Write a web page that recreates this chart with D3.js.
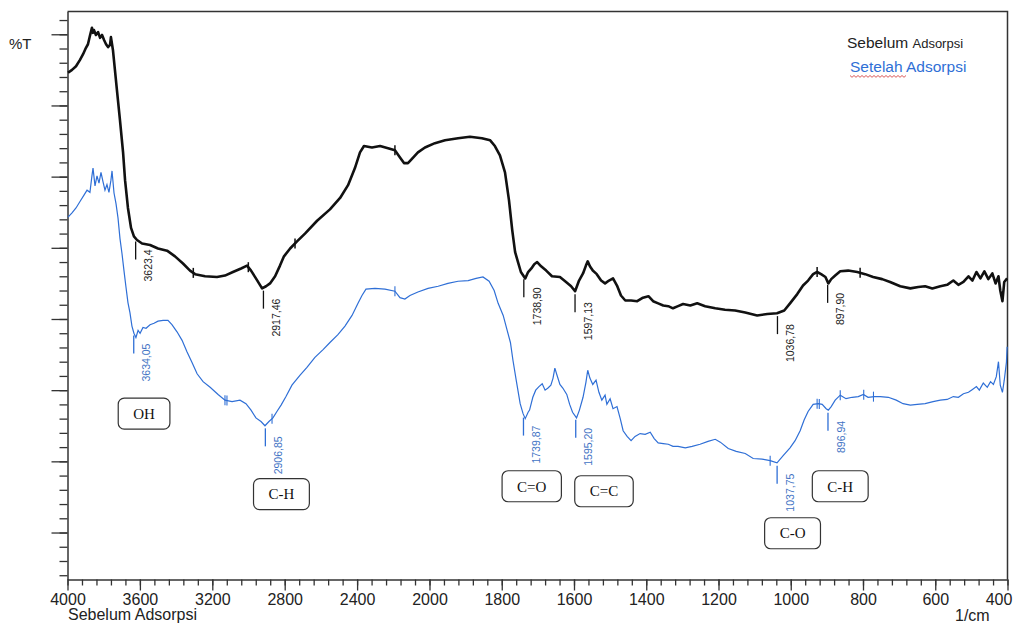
<!DOCTYPE html>
<html>
<head>
<meta charset="utf-8">
<script src="https://cdn.jsdelivr.net/npm/d3@7"></script>
<style>
  body { margin: 0; background: #fff; }
  svg { display: block; font-family: "Liberation Sans", Arial, sans-serif; }
</style>
</head>
<body>
<svg width="1015" height="623"></svg>
<script>
// spectrum before adsorption [wavenumber 1/cm, %T]
const sebelum = [
  [3997,74.6],[3975,75.0],[3953,75.5],[3931,76.4],[3914,77.2],[3898,78.1],[3887,78.6],[3876,79.8],[3865,80.9],[3859,80.2],
  [3854,80.6],[3843,79.9],[3831,80.3],[3820,79.5],[3809,79.9],[3798,79.2],[3787,78.6],[3776,78.2],[3765,78.5],[3760,79.6],
  [3749,77.8],[3738,75.0],[3727,72.2],[3710,67.9],[3693,63.4],[3682,59.5],[3666,55.6],[3649,52.8],[3633,51.6],[3616,51.1],
  [3588,50.6],[3544,50.4],[3500,49.9],[3450,49.6],[3406,48.8],[3362,47.8],[3323,46.8],[3295,46.3],[3240,46.0],[3174,45.9],
  [3130,46.1],[3086,46.6],[3041,47.1],[3008,47.5],[2986,46.8],[2959,45.7],[2925,44.3],[2903,44.6],[2881,45.0],[2853,46.0],
  [2826,47.5],[2804,48.8],[2770,49.9],[2732,50.9],[2688,52.0],[2621,53.8],[2550,55.4],[2494,57.0],[2450,58.8],[2412,61.2],
  [2384,63.4],[2362,64.3],[2318,64.1],[2273,64.3],[2229,64.0],[2191,63.7],[2163,62.7],[2141,61.9],[2119,61.9],[2097,62.5],
  [2064,63.4],[2025,64.1],[1985,64.7],[1957,65.1],[1921,65.4],[1888,65.6],[1855,65.4],[1832,65.1],[1819,64.3],[1805,63.0],
  [1791,60.6],[1780,56.7],[1771,52.5],[1763,49.4],[1755,48.0],[1747,46.6],[1735,45.7],[1727,46.6],[1718,47.1],[1710,47.7],
  [1702,48.0],[1691,47.4],[1677,46.8],[1661,46.0],[1639,45.9],[1622,45.2],[1608,44.6],[1597,43.9],[1586,45.4],[1575,46.4],
  [1567,47.5],[1562,48.1],[1556,47.4],[1548,46.8],[1537,46.3],[1525,45.4],[1514,45.0],[1503,45.4],[1492,45.7],[1481,44.7],
  [1470,43.3],[1458,42.6],[1442,42.6],[1425,42.5],[1409,43.0],[1394,43.2],[1381,42.5],[1367,42.2],[1353,41.9],[1339,41.8],
  [1326,41.5],[1312,41.8],[1298,42.1],[1278,41.9],[1259,42.2],[1237,41.8],[1209,41.5],[1182,41.3],[1154,41.2],[1126,40.9],
  [1093,40.5],[1065,40.7],[1038,40.8],[1018,41.2],[1002,42.2],[982,43.5],[966,44.7],[952,45.4],[938,46.3],[927,46.6],
  [916,46.3],[904,45.9],[896,45.0],[888,45.6],[877,46.1],[863,46.7],[841,46.8],[816,46.6],[794,46.3],[772,45.9],
  [747,45.6],[725,45.2],[697,44.6],[669,44.3],[647,44.5],[628,44.6],[608,44.3],[586,44.6],[567,44.8],[550,45.4],
  [536,44.8],[522,45.2],[508,46.0],[497,45.4],[486,46.6],[475,45.7],[464,46.7],[453,45.6],[442,46.4],[433,45.0],
  [425,46.0],[420,44.0],[414,42.5],[409,45.2],[401,45.7]
];

// spectrum after adsorption
const setelah = [
  [3997,54.3],[3975,54.9],[3953,55.6],[3931,56.5],[3909,57.4],[3892,58.1],[3876,57.8],[3865,60.1],[3859,61.2],[3848,58.7],
  [3837,60.1],[3826,59.1],[3815,60.6],[3804,59.3],[3793,58.1],[3782,58.9],[3771,57.8],[3760,59.5],[3754,60.8],[3743,57.7],
  [3732,56.2],[3721,54.2],[3710,51.3],[3699,49.2],[3688,46.8],[3677,44.5],[3666,42.3],[3655,40.9],[3644,39.0],[3633,38.0],
  [3622,37.4],[3610,38.4],[3599,38.0],[3583,38.8],[3566,38.7],[3544,39.2],[3522,39.4],[3500,39.7],[3472,39.8],[3445,39.8],
  [3423,39.2],[3395,38.2],[3367,37.0],[3340,35.4],[3312,33.9],[3284,32.3],[3251,31.2],[3212,30.4],[3168,29.4],[3130,28.6],
  [3091,28.4],[3047,28.6],[3014,28.1],[2986,27.2],[2959,26.1],[2931,25.6],[2909,25.0],[2887,25.6],[2865,26.1],[2843,27.0],
  [2820,27.9],[2793,29.1],[2760,30.7],[2715,32.1],[2677,33.2],[2633,34.6],[2588,35.7],[2550,36.7],[2506,37.8],[2467,39.0],
  [2428,40.5],[2395,42.2],[2373,43.3],[2351,44.2],[2301,44.3],[2246,44.2],[2191,43.9],[2163,43.0],[2136,42.8],[2108,43.3],
  [2064,43.8],[2008,44.3],[1976,44.6],[1949,45.0],[1921,45.3],[1893,45.4],[1871,45.7],[1852,45.9],[1835,45.3],[1821,44.0],
  [1810,42.2],[1796,40.5],[1785,38.4],[1776,36.7],[1769,34.2],[1760,31.4],[1749,28.1],[1741,26.7],[1735,26.0],[1727,26.9],
  [1723,27.2],[1714,29.0],[1706,30.0],[1697,30.5],[1688,30.9],[1680,30.0],[1672,30.3],[1664,30.7],[1658,31.7],[1653,33.1],
  [1647,32.1],[1639,30.8],[1631,30.3],[1620,29.4],[1612,28.0],[1604,26.9],[1593,26.1],[1585,27.2],[1575,29.0],[1567,31.1],
  [1562,32.8],[1556,31.7],[1548,30.8],[1539,31.4],[1531,29.7],[1523,28.6],[1514,29.3],[1509,28.0],[1500,28.8],[1492,27.4],
  [1481,27.7],[1472,26.0],[1464,24.3],[1453,23.5],[1442,22.9],[1431,23.5],[1417,23.9],[1403,23.8],[1389,24.1],[1378,23.2],
  [1367,22.6],[1353,22.5],[1339,22.4],[1326,22.1],[1312,22.1],[1292,21.9],[1273,22.1],[1251,22.4],[1229,22.8],[1209,23.1],
  [1195,22.7],[1173,21.8],[1151,21.4],[1126,21.1],[1104,20.4],[1079,20.3],[1057,20.1],[1038,19.8],[1021,20.8],[1002,21.9],
  [988,22.9],[974,24.3],[963,25.8],[952,27.0],[938,28.0],[924,28.1],[913,28.0],[902,27.4],[896,27.2],[888,27.7],
  [877,28.6],[863,29.3],[847,28.8],[830,29.0],[813,29.1],[799,29.4],[786,29.0],[769,29.1],[752,29.1],[730,29.0],
  [708,28.6],[689,28.1],[669,27.9],[650,28.0],[628,28.1],[606,28.4],[586,28.6],[567,28.7],[550,29.1],[536,29.0],
  [522,29.5],[508,29.7],[497,30.1],[486,30.5],[478,30.0],[467,31.0],[456,30.4],[447,31.2],[439,30.8],[431,31.9],
  [425,34.0],[420,30.7],[414,29.7],[409,31.4],[403,33.9],[401,36.1]
];

// picked peaks
const sebelumPeaks = [3623.44, 2917.46, 1738.90, 1597.13, 1036.78, 897.90];
const sebelumPeakText = ['3623,4', '2917,46', '1738,90', '1597,13', '1036,78', '897,90'];
const setelahPeaks = [3634.05, 2906.85, 1739.87, 1595.20, 1037.75, 896.94];
const setelahPeakText = ['3634,05', '2906,85', '1739,87', '1595,20', '1037,75', '896,94'];

// little bar marks drawn across the traces
const sebelumMarks = [3305, 3001, 2743, 2191, 927, 808];
const setelahMarks = [3130, 3119, 2870, 2191, 1057, 927, 921, 863, 798, 771];

// functional group boxes: label, wavenumber, %T
const groupLabels = ['OH', 'C-H', 'C=O', 'C=C', 'C-H', 'C-O'];
const groupWn = [3577, 2818, 1717, 1517, 863, 995];
const groupT = [26.7, 15.4, 16.5, 15.8, 16.5, 9.9];

const xMajor = [4000, 3600, 3200, 2800, 2400, 2000, 1800, 1600, 1400, 1200, 1000, 800, 600, 400];

const svg = d3.select('svg');
const black = '#111';
const blue = '#2f6fd6';
const blueText = '#3f73c4';

const x = d3.scaleLinear().domain([4000, 2000, 400]).range([67.5, 429.5, 1007.5]);
const y = d3.scaleLinear().domain([3.4, 83.2]).range([579.5, 11.5]);

// minor ticks: 80 steps above 2000, 40 steps below
const xMinor = d3.range(4000, 2000, -80).concat(d3.range(2000, 399, -40));
const yMajor = d3.range(10, 81, 10);
const yMinor = d3.range(4, 83, 2);

// frame
svg.append('path')
  .attr('d', `M${x(4000)},${y.range()[1]}H${x(400)}V${y.range()[0]}`)
  .attr('fill', 'none')
  .attr('stroke', '#333')
  .attr('stroke-width', 1.5);

// x axis
const xg = svg.append('g').attr('transform', `translate(0,${y.range()[0]})`);
xg.append('g')
  .call(d3.axisBottom(x).tickValues(xMinor).tickSize(6).tickFormat(''))
  .call(g => g.select('.domain').remove());
xg.append('g')
  .call(d3.axisBottom(x).tickValues(xMajor).tickSize(11).tickSizeOuter(0).tickPadding(3).tickFormat(d3.format('d')))
  .call(g => g.select('.domain').attr('stroke', '#333').attr('stroke-width', 1.5))
  .call(g => g.selectAll('text').attr('font-size', 16).attr('fill', '#222'))
  .call(g => g.selectAll('.tick').filter(d => d === 400).select('text').attr('dx', -9));
xg.selectAll('.tick line').attr('stroke', '#333').attr('stroke-width', 1.3);

// y axis, no labels
const yg = svg.append('g').attr('transform', `translate(${x(4000)},0)`);
yg.append('g')
  .call(d3.axisLeft(y).tickValues(yMinor).tickSize(8).tickFormat(''))
  .call(g => g.select('.domain').remove());
yg.append('g')
  .call(d3.axisLeft(y).tickValues(yMajor).tickSize(16).tickSizeOuter(0).tickFormat(''))
  .call(g => g.select('.domain').attr('stroke', '#333').attr('stroke-width', 1.5));
yg.selectAll('.tick line').attr('stroke', '#333').attr('stroke-width', 1.3);

svg.append('text').attr('x', 9).attr('y', 49).attr('font-size', 15).attr('fill', '#222').text('%T');
svg.append('text').attr('x', 68).attr('y', 620).attr('font-size', 16).attr('fill', '#222').text('Sebelum Adsorpsi');
svg.append('text').attr('x', 955).attr('y', 621).attr('font-size', 16).attr('fill', '#222').text('1/cm');

// traces
const line = d3.line().x(d => x(d[0])).y(d => y(d[1]));

svg.append('path').datum(setelah)
  .attr('d', line).attr('fill', 'none').attr('stroke', blue).attr('stroke-width', 1.2);
svg.append('path').datum(sebelum)
  .attr('d', line).attr('fill', 'none').attr('stroke', black).attr('stroke-width', 2.6)
  .attr('stroke-linejoin', 'round');

// value of a trace at a wavenumber
function valueAt(series, wn) {
  for (let i = 0; i < series.length - 1; i++) {
    const a = series[i], b = series[i + 1];
    if (wn <= a[0] && wn >= b[0]) {
      const t = (a[0] - wn) / (a[0] - b[0]);
      return a[1] + t * (b[1] - a[1]);
    }
  }
  return series[series.length - 1][1];
}

function drawMarks(series, marks, color, width) {
  svg.append('g').selectAll('line')
    .data(marks)
    .join('line')
    .attr('x1', d => x(d)).attr('x2', d => x(d))
    .attr('y1', d => y(valueAt(series, d)) - 5)
    .attr('y2', d => y(valueAt(series, d)) + 5)
    .attr('stroke', color).attr('stroke-width', width);
}
drawMarks(sebelum, sebelumMarks, black, 1.5);
drawMarks(setelah, setelahMarks, blue, 1.1);

function drawPeaks(series, peaks, labels, color, textColor) {
  const g = svg.append('g');
  peaks.forEach((p, i) => {
    const py = y(valueAt(series, p));
    g.append('line')
      .attr('x1', x(p)).attr('x2', x(p))
      .attr('y1', py + 3).attr('y2', py + 21)
      .attr('stroke', color).attr('stroke-width', 1.3);
    g.append('text')
      .attr('transform', `translate(${x(p) + 13},${py + 11}) rotate(-90)`)
      .attr('text-anchor', 'end')
      .attr('dy', '0.35em')
      .attr('font-size', 10.5)
      .attr('fill', textColor)
      .text(labels[i]);
  });
}
drawPeaks(sebelum, sebelumPeaks, sebelumPeakText, black, '#222');
drawPeaks(setelah, setelahPeaks, setelahPeakText, blue, blueText);

// functional group boxes
const boxes = svg.append('g');
groupLabels.forEach((lab, i) => {
  const cx = x(groupWn[i]);
  const cy = y(groupT[i]);
  const t = boxes.append('text')
    .attr('x', cx).attr('y', cy)
    .attr('text-anchor', 'middle')
    .attr('dy', '0.35em')
    .attr('font-family', '"Liberation Serif", "Times New Roman", serif')
    .attr('font-size', 15)
    .attr('fill', '#111')
    .text(lab);
  const w = t.node().getComputedTextLength() + 30;
  boxes.insert('rect', 'text')
    .attr('x', cx - w / 2).attr('y', cy - 15.5)
    .attr('width', w).attr('height', 31)
    .attr('rx', 6)
    .attr('fill', '#fff')
    .attr('stroke', '#333')
    .attr('stroke-width', 1.2);
});

// legend
const leg = svg.append('g');
const l1 = leg.append('text').attr('x', 847).attr('y', 48).attr('fill', '#222');
l1.append('tspan').attr('font-size', 15.5).text('Sebelum ');
l1.append('tspan').attr('font-size', 13).text('Adsorpsi');
leg.append('text').attr('x', 850).attr('y', 72).attr('fill', blue).attr('font-size', 15.5)
  .text('Setelah Adsorpsi');

// red spell-check squiggle under "Setelah"
const sq = d3.path();
sq.moveTo(850, 75.5);
for (let k = 0; k < 28; k++) sq.lineTo(852 + k * 2, k % 2 ? 75.5 : 77.3);
leg.append('path').attr('d', sq.toString()).attr('fill', 'none').attr('stroke', '#d03030').attr('stroke-width', 0.8);
</script>
</body>
</html>
